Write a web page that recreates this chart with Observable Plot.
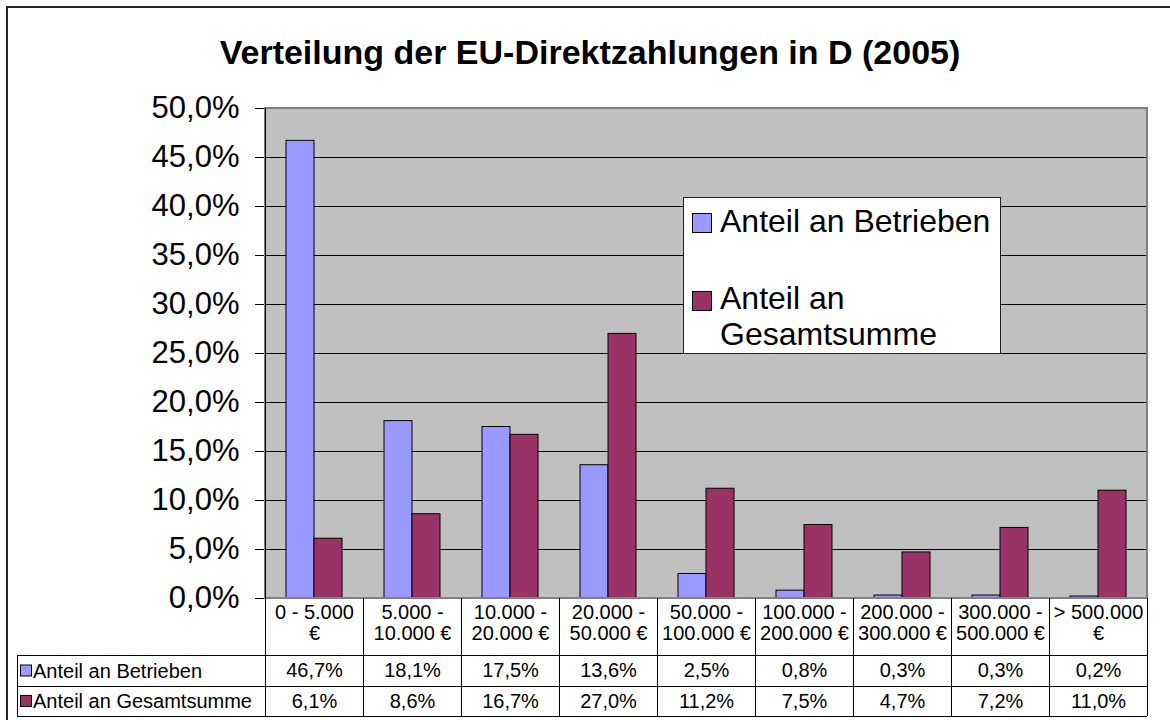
<!DOCTYPE html>
<html>
<head>
<meta charset="utf-8">
<script src="https://cdn.jsdelivr.net/npm/d3@7"></script>
<script src="https://cdn.jsdelivr.net/npm/@observablehq/plot@0.6"></script>
<style>
  html, body { margin: 0; padding: 0; background: #fff; }
  #wrap { position: relative; width: 1170px; height: 720px; overflow: hidden; background: #fff;
          font-family: "Liberation Sans", Arial, sans-serif; color: #000; }
  #outer { position: absolute; left: 6px; top: 6px; width: 1200px; height: 760px; border: 2px solid #222; box-sizing: border-box; }
  #title { position: absolute; left: 5px; top: 32px; width: 1170px; text-align: center; font-weight: bold;
           font-size: 34px; line-height: 40px; }
  #chart { position: absolute; left: 0; top: 0; }
  #legend { position: absolute; left: 683px; top: 197px; width: 318px; height: 157px; background: #fff;
            border: 1px solid #222; box-sizing: border-box; font-size: 32px; }
  .lg-item { position: absolute; left: 36px; line-height: 36px; white-space: pre; }
  .lg-sw { position: absolute; left: 8px; width: 20px; height: 20px; border: 1px solid #000; box-sizing: border-box; }
</style>
</head>
<body>
<div id="wrap">
  <div id="outer"></div>
  <div id="chart"></div>
  <div id="title"></div>
  <div id="legend"></div>
</div>
<script>
// ---- data ----
const title = "Verteilung der EU-Direktzahlungen in D (2005)";
const categories = ["0 - 5.000\n€", "5.000 -\n10.000 €", "10.000 -\n20.000 €", "20.000 -\n50.000 €",
  "50.000 -\n100.000 €", "100.000 -\n200.000 €", "200.000 -\n300.000 €", "300.000 -\n500.000 €", "> 500.000\n€"];
const series = ["Anteil an Betrieben", "Anteil an Gesamtsumme"];
const legendLabels = ["Anteil an Betrieben", "Anteil an\nGesamtsumme"];
const anteilBetriebe = [46.7, 18.1, 17.5, 13.6, 2.5, 0.8, 0.3, 0.3, 0.2];
const anteilGesamtsumme = [6.1, 8.6, 16.7, 27.0, 11.2, 7.5, 4.7, 7.2, 11.0];
const colors = ["#9999FF", "#993366"];
const yTicks = [0, 5, 10, 15, 20, 25, 30, 35, 40, 45, 50];

// ---- derived ----
const seriesValues = [anteilBetriebe, anteilGesamtsumme];
const rows = [];
categories.forEach((c, i) => series.forEach((s, j) => rows.push({category: c, series: s, value: seriesValues[j][i]})));
const fmt = v => v.toFixed(1).replace(".", ",") + "%";

const W = 1170, H = 720, mL = 263, mR = 21, mT = 108, mB = 122;
const font = "'Liberation Sans', Arial, sans-serif";
// table layout (pixels below the plot)
const tableLeft = 17, headerBottom = 655, row1Bottom = 686, tableBottom = 716;
const rowCenters = [670.5, 701];

const valueTexts = seriesValues.map((vals, j) =>
  Plot.text(vals.map((v, i) => ({category: categories[i], v})), {
    fx: "category", text: d => fmt(d.v), frameAnchor: "bottom",
    dy: rowCenters[j] - (H - mB), lineAnchor: "middle", fontSize: 20
  }));

const chart = Plot.plot({
  width: W, height: H,
  marginLeft: mL, marginRight: mR, marginTop: mT, marginBottom: mB,
  style: {fontFamily: font, background: "transparent", color: "black", overflow: "visible"},
  fx: {domain: categories, padding: 0, axis: null, label: null},
  x: {domain: series, paddingInner: 0, paddingOuter: 0.73, axis: null},
  y: {domain: [0, 50]},
  color: {domain: series, range: colors},
  marks: [
    Plot.frame({fill: "#C0C0C0", shapeRendering: "crispEdges"}),
    Plot.gridY(yTicks.slice(1, -1), {stroke: "black", strokeOpacity: 1, strokeWidth: 1}),
    Plot.barY(rows, {fx: "category", x: "series", y1: 0, y2: "value", fill: "series", stroke: "black", strokeWidth: 1}),
    Plot.ruleY([0], {stroke: "black", strokeWidth: 1}),
    Plot.axisY({ticks: yTicks, tickSize: 10, tickPadding: 16, fontSize: 31, tickFormat: fmt, label: null}),
    Plot.text(categories, {fx: d => d, text: d => d, frameAnchor: "bottom", dy: 24.5,
      lineAnchor: "middle", fontSize: 20, lineHeight: 1.05}),
    ...valueTexts
  ]
});
document.getElementById("chart").appendChild(chart);

// ---- plot-area border, axis line and table grid ----
const fx = chart.scale("fx");
const bw = fx.bandwidth;
const lefts = categories.map(c => fx.apply(c));
const right = lefts[lefts.length - 1] + bw;
const x0 = lefts[0], y0 = H - mB;
const svg = d3.select(chart);
const g = svg.append("g").attr("fill", "none").attr("shape-rendering", "crispEdges");
g.append("rect").attr("x", x0).attr("y", mT).attr("width", right - x0).attr("height", y0 - mT)
  .attr("stroke", "#808080").attr("stroke-width", 1.5);
g.append("line").attr("x1", x0).attr("x2", x0).attr("y1", mT).attr("y2", tableBottom).attr("stroke", "#000");
lefts.concat([right]).forEach(x => g.append("line").attr("x1", x).attr("x2", x).attr("y1", y0).attr("y2", tableBottom).attr("stroke", "#000"));
g.append("line").attr("x1", tableLeft).attr("x2", tableLeft).attr("y1", headerBottom).attr("y2", tableBottom).attr("stroke", "#000");
[headerBottom, row1Bottom, tableBottom].forEach(y => g.append("line").attr("x1", tableLeft).attr("x2", right).attr("y1", y).attr("y2", y).attr("stroke", "#000"));

// row labels with swatches
const lab = svg.append("g").attr("text-anchor", "start").attr("font-family", font).attr("font-size", 20);
series.forEach((s, j) => {
  const cy = rowCenters[j];
  lab.append("rect").attr("x", tableLeft + 3.5).attr("y", cy - 5.5).attr("width", 11).attr("height", 11)
    .attr("fill", colors[j]).attr("stroke", "#000").attr("stroke-width", 1);
  lab.append("text").attr("x", tableLeft + 16).attr("y", cy).attr("dy", "0.35em")
    .attr("text-anchor", "start").attr("fill", "#000").text(s);
});

// ---- title and legend ----
document.getElementById("title").textContent = title;
const legend = document.getElementById("legend");
const itemTops = [5, 82];
const swTops = [15, 93];
series.forEach((s, j) => {
  const sw = document.createElement("div");
  sw.className = "lg-sw"; sw.style.top = swTops[j] + "px"; sw.style.background = colors[j];
  legend.appendChild(sw);
  const t = document.createElement("div");
  t.className = "lg-item"; t.style.top = itemTops[j] + "px"; t.textContent = legendLabels[j];
  legend.appendChild(t);
});
</script>
</body>
</html>
